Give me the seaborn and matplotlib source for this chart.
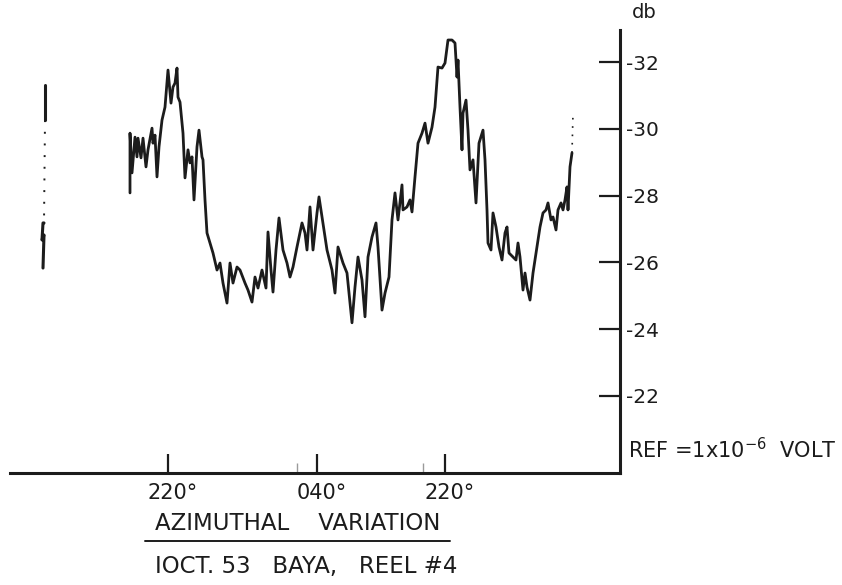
import numpy as np
import pandas as pd
import matplotlib
matplotlib.use("Agg")
import matplotlib.pyplot as plt
import matplotlib.transforms as mtransforms
from matplotlib.lines import Line2D
import seaborn as sns

# chart position (paper units) and level (db)
pos_main = [130, 130, 132, 135, 137, 138, 141, 143, 146, 148, 152, 153, 155, 157, 159,
            162, 165, 167, 168, 171, 173, 175, 177, 178, 180, 183, 185, 188, 190, 192,
            194, 197, 199, 202, 203, 205, 207, 210, 213, 217, 220, 223, 227, 230, 233,
            237, 240, 245, 248, 252, 255, 258, 262, 266, 268, 271, 273, 276, 279, 283,
            287, 290, 293, 297, 302, 305, 307, 310, 313, 317, 319, 322, 327, 332, 335,
            338, 343, 347, 352, 355, 358, 362, 365, 368, 372, 376, 378, 382, 385, 389,
            392, 395, 398, 402, 403, 407, 410, 412, 415, 418, 422, 425, 428, 432, 435,
            438, 442, 445, 448, 452, 455, 457, 458, 460, 462, 463, 466, 468, 470, 473,
            476, 479, 483, 485, 487, 488, 491, 493, 496, 499, 502, 505, 507, 509, 513,
            516, 518, 520, 523, 525, 527, 530, 533, 536, 540, 543, 546, 548, 551, 553,
            556, 558, 561, 563, 565, 567, 568, 570, 572]
db_main = [-28.08, -29.87, -28.68, -29.75, -29.16, -29.72, -29.13, -29.72, -28.86, -29.37,
           -30.02, -29.57, -29.81, -28.56, -29.46, -30.26, -30.65, -31.40, -31.76, -30.77,
           -31.25, -31.37, -31.82, -30.95, -30.80, -29.87, -28.53, -29.37, -28.98, -29.16,
           -27.87, -29.46, -29.96, -29.16, -29.07, -27.87, -26.88, -26.58, -26.28, -25.77,
           -25.98, -25.38, -24.78, -25.98, -25.38, -25.86, -25.77, -25.38, -25.17, -24.81,
           -25.56, -25.23, -25.77, -25.23, -26.91, -25.77, -25.11, -26.37, -27.33, -26.37,
           -25.98, -25.56, -25.86, -26.46, -27.18, -26.88, -26.37, -27.66, -26.37, -27.48,
           -27.96, -27.36, -26.37, -25.77, -25.08, -26.46, -25.98, -25.68, -24.19, -25.26,
           -26.16, -25.47, -24.37, -26.16, -26.76, -27.18, -26.46, -24.57, -25.08, -25.56,
           -27.27, -28.08, -27.27, -28.32, -27.57, -27.66, -27.87, -27.51, -28.56, -29.57,
           -29.87, -30.17, -29.57, -30.05, -30.65, -31.85, -31.82, -31.97, -32.66, -32.66,
           -32.57, -31.55, -32.06, -30.65, -29.37, -30.47, -30.86, -29.96, -28.77, -29.07,
           -27.78, -29.57, -29.96, -29.07, -27.57, -26.58, -26.37, -27.48, -27.06, -26.46,
           -26.07, -26.88, -27.06, -26.28, -26.16, -26.07, -26.58, -26.16, -25.17, -25.68,
           -25.26, -24.87, -25.68, -26.28, -27.06, -27.48, -27.57, -27.78, -27.27, -27.36,
           -26.97, -27.57, -27.78, -27.57, -27.87, -28.26, -27.57, -28.86, -29.28]

# broken bits of trace (ink gaps on the original)
pos_left_top = [45, 45]
db_left_top = [-31.31, -30.26]
pos_left_gap = [45, 44]
db_left_gap = [-30.26, -27.18]
pos_left_bot = [44, 43, 42, 44, 43]
db_left_bot = [-27.18, -27.18, -26.67, -26.82, -25.83]
pos_end_gap = [572, 573]
db_end_gap = [-29.28, -30.47]

db_ticks = [-32, -30, -28, -26, -24, -22]
db_labels = ["-32", "-30", "-28", "-26", "-24", "-22"]
az_ticks = [168, 317, 445]
az_labels = ["220°", "040°", "220°"]
az_minor = [297, 423]

ink = "#1c1c1c"

sns.set_style("white")
plt.rcParams["font.family"] = ["DejaVu Sans"]

fig = plt.figure(figsize=(8.42, 5.85), dpi=100)
ax = fig.add_axes([10 / 842, 1 - 473 / 585, 610 / 842, 443 / 585])


def trace(x, y, lw, ls="-"):
    # raw pen trace: no aggregation, keep drawing order
    sns.lineplot(x=x, y=y, ax=ax, color=ink, linewidth=lw, linestyle=ls,
                 sort=False, estimator=None, errorbar=None)


df = pd.DataFrame({"pos": pos_main, "db": db_main})
sns.lineplot(data=df, x="pos", y="db", ax=ax, color=ink, linewidth=2.0,
             sort=False, estimator=None, errorbar=None)
trace(pos_left_top, db_left_top, 2.2)
trace(pos_left_bot, db_left_bot, 2.2)
trace(pos_left_gap, db_left_gap, 1.4, (0, (1, 5)))
trace(pos_end_gap, db_end_gap, 1.2, (0, (1, 4)))

ax.set_xlim(10, 620)
ax.set_ylim(-19.69, -32.96)
ax.set_xlabel("")
ax.set_ylabel("")

for s in ["left", "top"]:
    ax.spines[s].set_visible(False)
for s in ["right", "bottom"]:
    ax.spines[s].set_linewidth(2.2)
    ax.spines[s].set_color(ink)

ax.yaxis.tick_right()
ax.set_yticks(db_ticks)
ax.set_yticklabels(db_labels)
ax.tick_params(axis="y", right=True, direction="in", length=15, width=1.6, color=ink,
               labelsize=14.5, labelcolor=ink, pad=4)

ax.set_xticks(az_ticks)
ax.set_xticklabels(az_labels)
ax.set_xticks(az_minor, minor=True)
ax.tick_params(axis="x", which="major", bottom=True, direction="in", length=14,
               width=1.6, color=ink, labelsize=15, labelcolor=ink, pad=7)
ax.tick_params(axis="x", which="minor", bottom=True, direction="in", length=7,
               width=1.0, color="#9a9a9a")
# hand lettering sits a little right of each tick
shift = mtransforms.ScaledTranslation(5 / 100, 0, fig.dpi_scale_trans)
for lab in ax.get_xticklabels():
    lab.set_transform(lab.get_transform() + shift)

fig.text(644 / 842, 1 - 13 / 585, "db", fontsize=14, color=ink, ha="center", va="center")
fig.text(628 / 842, 1 - 450 / 585, r"REF =1x10$^{-6}$  VOLT", fontsize=15, color=ink,
         ha="left", va="center")

fig.text(298 / 842, 1 - 523 / 585, "AZIMUTHAL    VARIATION", fontsize=16.5, color=ink,
         ha="center", va="center")
fig.add_artist(Line2D([145 / 842, 450 / 842], [1 - 541 / 585, 1 - 541 / 585],
                      color=ink, linewidth=1.4, transform=fig.transFigure))
fig.text(306 / 842, 1 - 566 / 585, "IOCT. 53   BAYA,   REEL #4", fontsize=16.5,
         color=ink, ha="center", va="center")

fig.savefig("out.png", dpi=100, facecolor="white")
